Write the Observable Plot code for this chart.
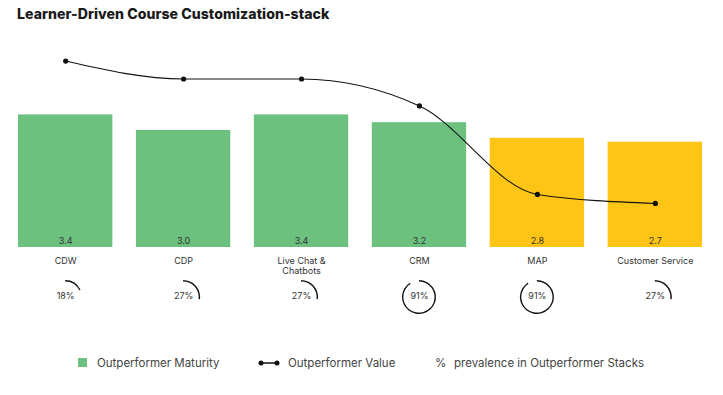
<!DOCTYPE html>
<html>
<head>
<meta charset="utf-8">
<script src="https://cdn.jsdelivr.net/npm/d3@7"></script>
<script src="https://cdn.jsdelivr.net/npm/@observablehq/plot@0.6"></script>
<style>
  body { margin: 0; background: #fff; font-family: Inter, "Open Sans", sans-serif; }
  #title { height: 28px; line-height: 28px; padding-left: 17px; font-size: 14.1px; font-weight: 800; color: #1a1a1a; letter-spacing: 0.05px; }
  #legend { position: relative; height: 55px; font-size: 11.5px; color: #444; }
  #legend span { position: absolute; top: 15px; line-height: 16px; }
</style>
</head>
<body>
<div id="title">Learner-Driven Course Customization-stack</div>
<div id="chart"></div>
<div id="legend">
  <span style="left:78px;top:18px;width:9px;height:9px;background:#6cc17f"></span>
  <span style="left:97px">Outperformer Maturity</span>
  <svg style="position:absolute;left:258px;top:19px" width="22" height="8"><line x1="3" y1="4" x2="19" y2="4" stroke="#111" stroke-width="1.5"/><circle cx="3" cy="4" r="2.5" fill="#111"/><circle cx="19" cy="4" r="2.5" fill="#111"/></svg>
  <span style="left:288px">Outperformer Value</span>
  <span style="left:435px">%</span>
  <span style="left:454px">prevalence in Outperformer Stacks</span>
</div>
<script>
const categories = ["CDW", "CDP", "Live Chat & Chatbots", "CRM", "MAP", "Customer Service"];
const maturity = [3.4, 3.0, 3.4, 3.2, 2.8, 2.7];
const outperformerValue = [4.78, 4.32, 4.32, 3.63, 1.36, 1.13];
const prevalence = [18, 27, 27, 91, 91, 27];
const tier = ["upper", "upper", "upper", "upper", "lower", "lower"];

const data = categories.map((c, i) => ({
  category: c, maturity: maturity[i], value: outperformerValue[i],
  prevalence: prevalence[i], tier: tier[i]
}));

const arcGen = d3.arc().innerRadius(15.6).outerRadius(17);

const chart = Plot.plot({
  width: 723,
  height: 312,
  marginLeft: 18,
  marginRight: 21,
  marginTop: 24,
  marginBottom: 93,
  style: { fontFamily: "Inter, 'Open Sans', sans-serif", fontSize: "9px", color: "#333", background: "#fff" },
  x: { domain: categories, paddingInner: 0.2, paddingOuter: 0, round: false, label: null },
  y: { domain: [0, 5], axis: null },
  color: { type: "ordinal", domain: ["upper", "lower"], range: ["#6cc17f", "#ffc516"] },
  marks: [
    Plot.barY(data, { x: "category", y: "maturity", fill: "tier" }),
    Plot.axisX({
      tickSize: 0, tickPadding: 9, lineHeight: 1.15, label: null,
      tickFormat: d => d === "Live Chat & Chatbots" ? "Live Chat &\nChatbots" : d
    }),
    Plot.text(data, { x: "category", y: 0, text: d => d.maturity.toFixed(1), dy: -6, fontSize: 9, fill: "#333" }),
    Plot.line(data, { x: "category", y: "value", curve: "monotone-x", stroke: "#111", strokeWidth: 1.1 }),
    Plot.dot(data, { x: "category", y: "value", r: 2.6, fill: "#111" }),
    Plot.dot(data, {
      x: "category", r: 0, frameAnchor: "bottom",
      render(index, scales, values, dimensions) {
        const g = d3.create("svg:g");
        const bw = scales.x && scales.x.bandwidth ? scales.x.bandwidth() : 0;
        const cy = dimensions.height - dimensions.marginBottom + 50;
        for (const i of index) {
          g.append("path")
            .attr("transform", `translate(${values.x[i] + bw / 2},${cy})`)
            .attr("fill", "#111")
            .attr("d", arcGen({ startAngle: 0, endAngle: 2 * Math.PI * data[i].prevalence / 100 }));
        }
        return g.node();
      }
    }),
    Plot.text(data, { x: "category", frameAnchor: "bottom", dy: 51, text: d => d.prevalence + "%", fontSize: 9, fill: "#333" })
  ]
});
document.getElementById("chart").appendChild(chart);
</script>
</body>
</html>
